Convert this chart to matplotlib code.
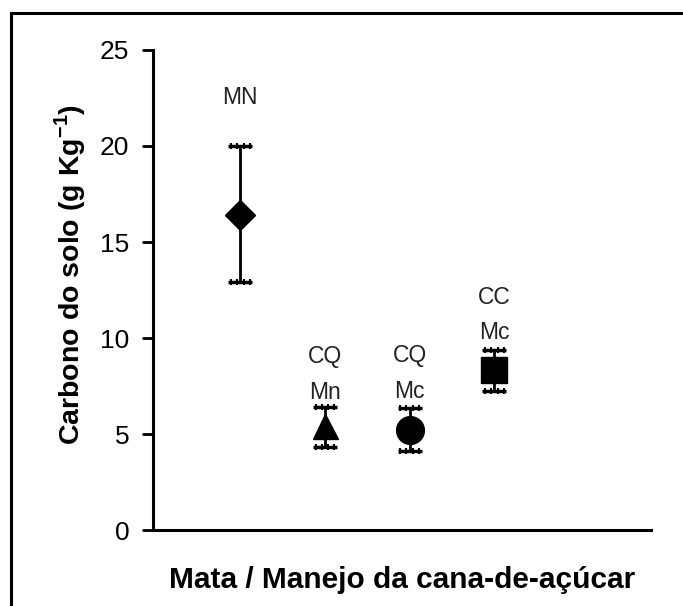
import matplotlib.pyplot as plt
from matplotlib.lines import Line2D

plt.rcParams['font.family'] = ['Liberation Sans', 'DejaVu Sans']

# dados
tratamentos = ["MN", "CQ\nMn", "CQ\nMc", "CC\nMc"]
carbono = [16.4, 5.4, 5.2, 8.35]
erro_sup = [20.0, 6.4, 6.35, 9.4]
erro_inf = [12.9, 4.3, 4.1, 7.25]
marcadores = ['D', '^', 'o', 's']
tamanhos = [15, 18, 20, 19]
y_rotulos = [22.5, 8.1, 8.15, 11.2]

fig = plt.figure(figsize=(6.83, 6.06), dpi=100)
ax = fig.add_axes([0.224, 0.1254, 0.729, 0.7921])

pos = [1, 2, 3, 4]
for i in range(4):
    ax.errorbar(pos[i], carbono[i],
                yerr=[[carbono[i] - erro_inf[i]], [erro_sup[i] - carbono[i]]],
                fmt=marcadores[i], color='black', markersize=tamanhos[i],
                elinewidth=2, capsize=8.5, capthick=2.5, zorder=3)
    # "serrilhado" das barras de erro
    for y in (erro_inf[i], erro_sup[i]):
        ax.plot([pos[i] - 0.11, pos[i] - 0.04, pos[i] + 0.04, pos[i] + 0.11], [y] * 4,
                linestyle='none', marker='|', markersize=5, mew=1.5, color='black')
    ax.text(pos[i], y_rotulos[i], tratamentos[i], ha='center', va='center',
            fontsize=16.5, linespacing=1.7, color='#222222')

ax.set_xlim(-0.03, 5.85)
ax.set_ylim(0, 25)
ax.set_yticks([0, 5, 10, 15, 20, 25])
ax.set_xticks([])
ax.tick_params(axis='y', labelsize=19, width=2, length=8, direction='out', pad=9)
for s in ['top', 'right']:
    ax.spines[s].set_visible(False)
for s in ['left', 'bottom']:
    ax.spines[s].set_linewidth(2.2)

ax.set_ylabel('Carbono do solo (g Kg$^{\\mathregular{-1}}$)', fontsize=20.5, fontweight='bold')
ax.yaxis.set_label_coords(-0.13, 0.533)
ax.set_xlabel('Mata / Manejo da cana-de-açúcar', fontsize=21.5, fontweight='bold', labelpad=26)

# moldura
fig.add_artist(Line2D([11 / 683, 11 / 683], [0, 1 - 13 / 606], color='black', lw=2.2))
fig.add_artist(Line2D([11 / 683, 1], [1 - 13 / 606, 1 - 13 / 606], color='black', lw=2.2))

fig.savefig('out.png', dpi=100)
